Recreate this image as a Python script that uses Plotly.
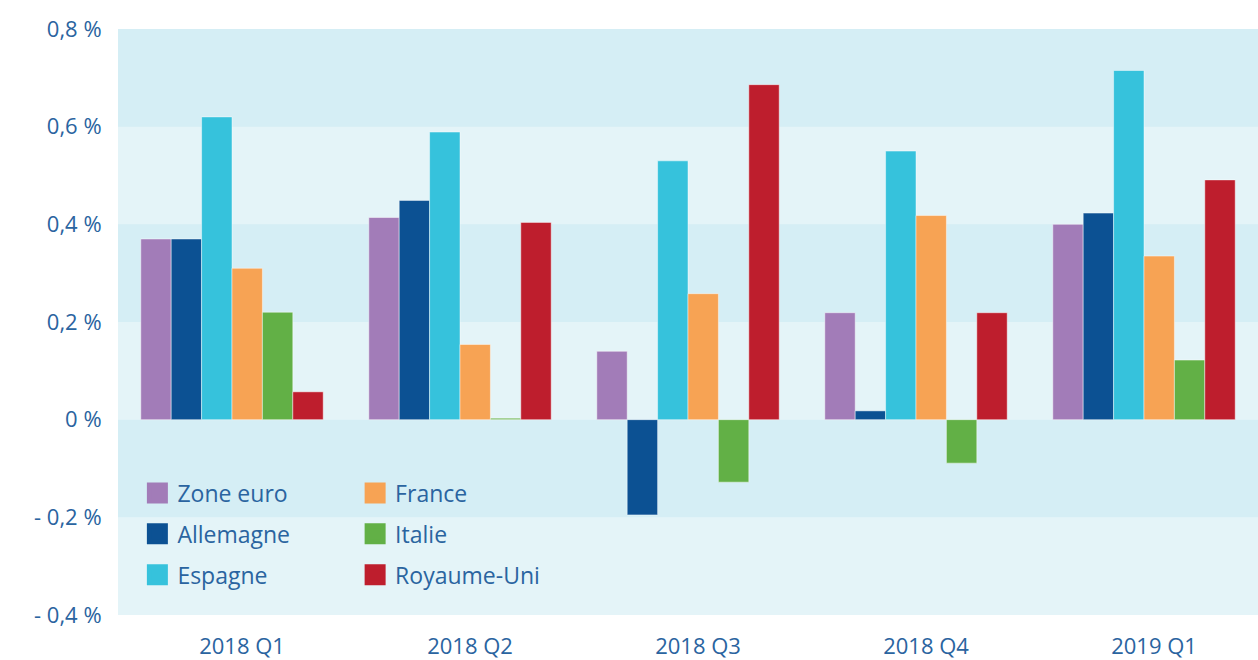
import plotly.graph_objects as go

quarters = ["2018 Q1", "2018 Q2", "2018 Q3", "2018 Q4", "2019 Q1"]
zone_euro = [0.37, 0.414, 0.14, 0.219, 0.40]
allemagne = [0.37, 0.449, -0.195, 0.018, 0.423]
espagne = [0.62, 0.589, 0.53, 0.55, 0.715]
france = [0.31, 0.154, 0.258, 0.418, 0.335]
italie = [0.22, 0.003, -0.128, -0.089, 0.122]
royaume_uni = [0.057, 0.404, 0.686, 0.219, 0.491]

y_tickvals = [0.8, 0.6, 0.4, 0.2, 0, -0.2, -0.4]
y_ticktext = ["0,8 %", "0,6 %", "0,4 %", "0,2 %", "0 %", "- 0,2 %", "- 0,4 %"]

series = [
    ("Zone euro", zone_euro, "#a27cb8", "legend"),
    ("Allemagne", allemagne, "#0c5193", "legend"),
    ("Espagne", espagne, "#36c2dc", "legend"),
    ("France", france, "#f7a354", "legend2"),
    ("Italie", italie, "#62b046", "legend2"),
    ("Royaume-Uni", royaume_uni, "#be1e2d", "legend2"),
]

TEXT = "#2a64a0"
FONT = "Open Sans"
SIZE = 22

fig = go.Figure()
for name, vals, color, lg in series:
    fig.add_trace(go.Bar(
        x=quarters, y=vals, name=name, marker_color=color,
        marker_line=dict(color="rgba(255,255,255,0.45)", width=1),
        showlegend=False, legendgroup=name,
    ))
for name, vals, color, lg in series:
    fig.add_trace(go.Scatter(
        x=[None], y=[None], mode="markers", name=name, legendgroup=name,
        legend=lg,
        marker=dict(symbol="square", size=16, color=color,
                    line=dict(color=color, width=5)),
    ))

# alternating background bands
bands = [(0.6, 0.8), (0.2, 0.4), (-0.2, 0.0)]
for y0, y1 in bands:
    fig.add_shape(type="rect", xref="paper", yref="y", x0=0, x1=1, y0=y0, y1=y1,
                  fillcolor="#d5eef5", line_width=0, layer="below")

legend_common = dict(
    orientation="v", font=dict(family=FONT, size=23, color=TEXT),
    bgcolor="rgba(0,0,0,0)", tracegroupgap=8, itemsizing="trace",
    xanchor="left", yanchor="top",
)
fig.update_layout(
    width=1258, height=660,
    margin=dict(l=118, r=0, t=29, b=43),
    paper_bgcolor="white",
    plot_bgcolor="#e4f4f8",
    barmode="group", bargap=0.2, bargroupgap=0,
    font=dict(family=FONT, size=SIZE, color=TEXT),
    legend=dict(x=0.017, y=0.245, **legend_common),
    legend2=dict(x=0.208, y=0.245, **legend_common),
    xaxis=dict(showgrid=False, zeroline=False, showline=False,
               ticks="outside", ticklen=12, tickcolor="rgba(0,0,0,0)",
               ticklabelshift=10,
               tickfont=dict(family=FONT, size=SIZE, color=TEXT)),
    yaxis=dict(range=[-0.4, 0.8], tickvals=y_tickvals, ticktext=y_ticktext,
               showgrid=False, zeroline=False, showline=False,
               ticks="outside", ticklen=11, tickcolor="rgba(0,0,0,0)",
               tickfont=dict(family=FONT, size=SIZE, color=TEXT)),
)

fig.write_html("out.html",
               config={"displayModeBar": False},
               post_script="document.body.style.margin='0';document.body.style.overflow='hidden';")
